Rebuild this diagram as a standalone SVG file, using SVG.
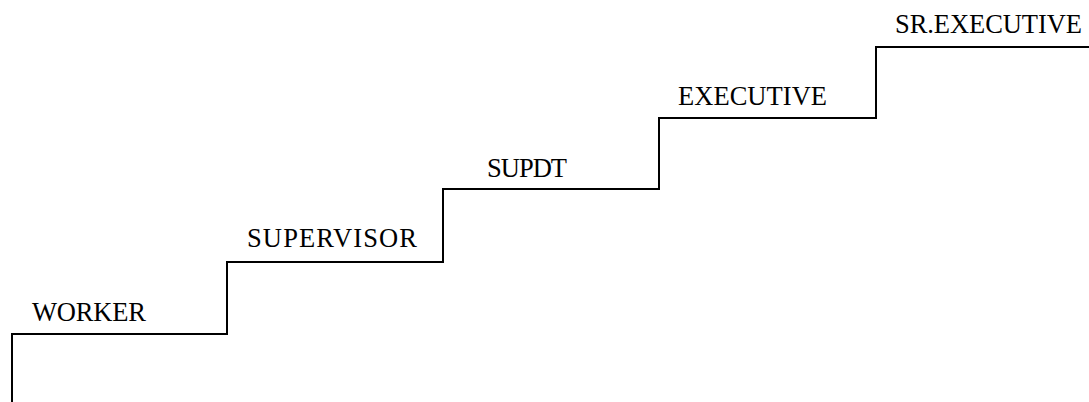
<svg xmlns="http://www.w3.org/2000/svg" width="1089" height="402" viewBox="0 0 1089 402">
<style>
.lbl{font-family:"Liberation Serif","Times New Roman",serif;font-size:26.5px;fill:#000}
.stair{fill:none;stroke:#000;stroke-width:2}
</style>
<rect width="1089" height="402" fill="#fff"/>
<g id="connectors">
<path class="stair" d="M12,402 V334 H227 V262 H443 V189 H659 V118 H876 V47 H1089"/>
</g>
<g id="worker"><text class="lbl" x="32" y="321" textLength="114" lengthAdjust="spacing">WORKER</text></g>
<g id="supervisor"><text class="lbl" x="247" y="247" textLength="170" lengthAdjust="spacing">SUPERVISOR</text></g>
<g id="supdt"><text class="lbl" x="487" y="177" textLength="80" lengthAdjust="spacing">SUPDT</text></g>
<g id="executive"><text class="lbl" x="678" y="105" textLength="149" lengthAdjust="spacing">EXECUTIVE</text></g>
<g id="srexecutive"><text class="lbl" x="895" y="33" textLength="187" lengthAdjust="spacing">SR.EXECUTIVE</text></g>
</svg>
